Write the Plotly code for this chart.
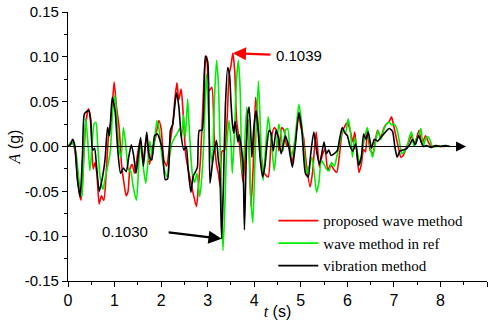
import plotly.graph_objects as go

# ---- acceleration records (time in s, acceleration in g) ----
t_proposed = [0.00, 0.06, 0.10, 0.15, 0.21, 0.28, 0.33, 0.38, 0.44, 0.49,
              0.54, 0.58, 0.62, 0.67, 0.72, 0.77, 0.82, 0.88, 0.93, 0.99,
              1.04, 1.10, 1.15, 1.20, 1.25, 1.29, 1.33, 1.38, 1.43, 1.49,
              1.55, 1.61, 1.69, 1.75, 1.81, 1.88, 1.95, 2.00, 2.06, 2.12,
              2.18, 2.25, 2.30, 2.34, 2.38, 2.43, 2.47, 2.53, 2.58, 2.64,
              2.70, 2.76, 2.80, 2.85, 2.90, 2.94, 2.98, 3.03, 3.09, 3.14,
              3.19, 3.23, 3.27, 3.31, 3.36, 3.42, 3.46, 3.50, 3.54, 3.58,
              3.62, 3.67, 3.72, 3.76, 3.82, 3.87, 3.93, 3.98, 4.03, 4.09,
              4.16, 4.22, 4.30, 4.37, 4.43, 4.48, 4.53, 4.59, 4.64, 4.70,
              4.75, 4.81, 4.88, 4.95, 5.00, 5.06, 5.12, 5.20, 5.25, 5.33,
              5.40, 5.46, 5.52, 5.58, 5.64, 5.70, 5.77, 5.83, 5.89, 5.95,
              6.00, 6.06, 6.12, 6.16, 6.20, 6.25, 6.30, 6.35, 6.39, 6.43,
              6.49, 6.55, 6.60, 6.65, 6.72, 6.78, 6.84, 6.90, 6.95, 7.00,
              7.05, 7.10, 7.15, 7.20, 7.26, 7.32, 7.38, 7.43, 7.48, 7.54,
              7.60, 7.68, 7.74, 7.80, 7.90, 8.00, 8.10]
a_proposed = [0.000, 0.003, 0.004, -0.005, -0.040, -0.060, -0.020, 0.025, 0.042, 0.030,
              -0.025, -0.018, -0.030, -0.064, -0.055, -0.060, -0.030, 0.018, 0.030, 0.072,
              0.045, 0.020, -0.020, -0.040, -0.055, -0.050, -0.025, -0.020, -0.030, -0.010,
              0.007, -0.015, 0.010, -0.020, -0.003, 0.010, 0.029, 0.020, -0.015, -0.022,
              0.000, 0.025, 0.055, 0.071, 0.052, 0.064, 0.040, -0.010, -0.025, -0.040,
              -0.055, -0.067, -0.045, -0.010, 0.050, 0.090, 0.101, 0.062, 0.066, 0.010,
              -0.020, -0.030, -0.045, -0.005, -0.005, 0.033, 0.080, 0.090, 0.1039, 0.085,
              0.030, 0.010, -0.020, -0.040, 0.000, 0.030, -0.067, -0.020, 0.055, 0.020,
              -0.015, -0.030, -0.034, 0.010, 0.021, 0.018, -0.005, 0.021, 0.018, 0.000,
              0.005, -0.019, 0.005, 0.036, 0.022, 0.010, -0.020, -0.045, -0.030, 0.016,
              -0.023, -0.010, -0.003, -0.027, -0.020, -0.025, -0.029, -0.010, 0.016, 0.023,
              0.027, 0.018, 0.005, 0.016, -0.005, -0.029, -0.020, -0.003, -0.006, 0.018,
              -0.004, -0.008, 0.006, 0.018, 0.010, 0.020, 0.025, 0.028, 0.033, 0.022,
              0.010, -0.002, -0.012, -0.010, -0.002, 0.005, 0.012, 0.004, 0.008, 0.018,
              0.003, 0.012, 0.005, 0.000, 0.001, 0.000, 0.000]

t_ref = [0.00, 0.07, 0.12, 0.18, 0.24, 0.30, 0.34, 0.38, 0.42, 0.47,
         0.51, 0.56, 0.60, 0.64, 0.69, 0.75, 0.80, 0.86, 0.91, 0.96,
         1.01, 1.05, 1.10, 1.14, 1.19, 1.24, 1.30, 1.35, 1.40, 1.47,
         1.52, 1.56, 1.61, 1.67, 1.72, 1.76, 1.81, 1.86, 1.91, 1.96,
         2.02, 2.07, 2.13, 2.18, 2.23, 2.29, 2.34, 2.40, 2.44, 2.48,
         2.52, 2.57, 2.61, 2.67, 2.72, 2.77, 2.83, 2.88, 2.92, 2.97,
         3.01, 3.05, 3.10, 3.14, 3.19, 3.23, 3.26, 3.30, 3.33, 3.37,
         3.41, 3.46, 3.50, 3.53, 3.58, 3.62, 3.66, 3.70, 3.74, 3.78,
         3.84, 3.88, 3.93, 3.97, 4.02, 4.09, 4.14, 4.19, 4.24, 4.30,
         4.36, 4.43, 4.48, 4.53, 4.58, 4.62, 4.67, 4.72, 4.78, 4.83,
         4.88, 4.96, 5.02, 5.08, 5.13, 5.19, 5.24, 5.29, 5.34, 5.39,
         5.44, 5.50, 5.55, 5.61, 5.66, 5.72, 5.78, 5.84, 5.90, 5.96,
         6.02, 6.07, 6.11, 6.16, 6.21, 6.27, 6.32, 6.37, 6.43, 6.49,
         6.54, 6.60, 6.66, 6.72, 6.78, 6.84, 6.90, 6.96, 7.00, 7.06,
         7.12, 7.17, 7.22, 7.28, 7.33, 7.38, 7.43, 7.48, 7.53, 7.58,
         7.63, 7.68, 7.72, 7.77, 7.83, 7.95, 8.10, 8.20]
a_ref = [0.000, 0.005, 0.002, -0.010, -0.040, -0.056, -0.010, 0.031, 0.010, -0.027,
         -0.005, 0.025, 0.027, 0.000, -0.034, -0.048, -0.035, -0.020, -0.005, 0.040,
         0.057, 0.030, -0.005, -0.012, 0.021, 0.002, -0.026, -0.028, -0.045, -0.060,
         -0.020, 0.006, -0.020, -0.041, -0.015, 0.006, -0.012, 0.006, 0.029, 0.018,
         -0.012, -0.026, -0.034, -0.012, 0.003, 0.010, 0.014, 0.020, 0.010, 0.035,
         0.010, 0.053, 0.015, -0.030, -0.040, -0.030, -0.056, -0.030, 0.010, 0.081,
         0.045, 0.000, -0.019, 0.045, 0.096, 0.070, 0.015, -0.065, -0.116, -0.065,
         0.000, 0.029, 0.005, -0.030, 0.020, 0.075, 0.096, 0.060, -0.030, -0.010,
         0.044, 0.010, -0.060, -0.085, -0.010, 0.073, 0.010, -0.038, -0.005, 0.033,
         0.010, -0.027, 0.000, 0.025, 0.012, -0.005, 0.018, 0.020, -0.012, -0.005,
         0.010, 0.047, 0.025, -0.010, -0.030, -0.020, -0.012, -0.030, -0.051, -0.040,
         -0.015, -0.020, -0.025, -0.027, -0.018, -0.022, -0.010, 0.005, 0.018, 0.015,
         0.031, 0.015, -0.012, 0.010, -0.005, -0.020, -0.005, 0.010, 0.021, 0.000,
         -0.012, 0.003, 0.018, 0.008, 0.018, 0.025, 0.027, 0.024, 0.025, 0.020,
         0.005, -0.008, -0.006, -0.001, 0.010, 0.016, 0.000, 0.008, 0.012, 0.020,
         0.000, 0.008, 0.011, 0.008, 0.000, 0.000, 0.001, 0.000]

t_vib = [0.00, 0.05, 0.10, 0.15, 0.20, 0.26, 0.31, 0.35, 0.40, 0.45,
         0.49, 0.53, 0.57, 0.61, 0.67, 0.72, 0.77, 0.80, 0.85, 0.89,
         0.95, 1.01, 1.07, 1.13, 1.19, 1.25, 1.31, 1.36, 1.41, 1.46,
         1.51, 1.56, 1.62, 1.69, 1.75, 1.80, 1.86, 1.92, 1.97, 2.03,
         2.09, 2.14, 2.20, 2.25, 2.33, 2.38, 2.43, 2.49, 2.54, 2.58,
         2.64, 2.69, 2.74, 2.78, 2.82, 2.88, 2.95, 3.00, 3.03, 3.05,
         3.10, 3.14, 3.19, 3.23, 3.26, 3.30, 3.34, 3.38, 3.43, 3.47,
         3.50, 3.53, 3.56, 3.59, 3.65, 3.68, 3.73, 3.76, 3.79, 3.82,
         3.86, 3.89, 3.93, 3.95, 3.99, 4.04, 4.08, 4.13, 4.18, 4.23,
         4.27, 4.32, 4.36, 4.41, 4.47, 4.52, 4.58, 4.67, 4.74, 4.82,
         4.88, 4.96, 5.02, 5.10, 5.16, 5.21, 5.28, 5.34, 5.40, 5.45,
         5.50, 5.55, 5.60, 5.65, 5.72, 5.78, 5.84, 5.89, 5.95, 6.00,
         6.06, 6.12, 6.18, 6.24, 6.30, 6.35, 6.40, 6.45, 6.52, 6.58,
         6.65, 6.72, 6.80, 6.90, 6.97, 7.02, 7.07, 7.13, 7.20, 7.28,
         7.35, 7.40, 7.46, 7.53, 7.58, 7.63, 7.70, 7.80, 7.90, 8.00,
         8.10, 8.20]
a_vib = [0.000, 0.002, 0.008, 0.000, -0.035, -0.056, -0.010, 0.036, 0.039, 0.040,
         0.025, -0.004, -0.002, -0.020, -0.050, -0.040, -0.025, -0.012, 0.021, 0.012,
         0.055, 0.040, -0.005, -0.030, -0.024, -0.028, -0.010, 0.002, -0.010, -0.030,
         -0.010, 0.010, -0.022, 0.016, -0.012, -0.015, 0.012, 0.014, 0.008, -0.005,
         -0.037, -0.036, 0.018, 0.025, 0.060, 0.045, 0.012, -0.004, 0.000, -0.025,
         -0.051, -0.033, -0.028, -0.023, 0.018, 0.018, 0.101, 0.095, 0.025, -0.041,
         -0.020, -0.005, 0.007, -0.015, -0.027, -0.1030, -0.040, 0.044, 0.088, 0.080,
         0.050, 0.026, 0.015, 0.028, 0.005, 0.013, -0.004, -0.020, -0.093, -0.030,
         0.036, 0.044, 0.010, -0.012, 0.020, 0.040, 0.020, -0.015, -0.034, -0.022,
         0.000, 0.018, 0.015, -0.005, 0.018, 0.010, -0.008, 0.012, 0.000, -0.023,
         0.000, 0.038, 0.020, -0.030, -0.034, -0.010, 0.016, -0.005, -0.020, -0.008,
         0.005, -0.008, -0.004, -0.010, -0.008, -0.005, 0.010, 0.021, 0.015, 0.012,
         0.000, -0.005, 0.003, -0.021, -0.012, 0.014, 0.008, 0.016, -0.002, 0.008,
         0.006, 0.010, 0.015, 0.020, 0.017, 0.000, -0.012, -0.005, -0.004, -0.002,
         0.003, 0.008, 0.002, 0.012, 0.006, 0.000, 0.001, -0.001, 0.001, 0.000,
         0.001, 0.000]

assert len(t_proposed) == len(a_proposed)
assert len(t_ref) == len(a_ref)
assert len(t_vib) == len(a_vib)

series_names = ["proposed wave method", "wave method in ref", "vibration method"]
series_colors = ["#ff0000", "#00ee00", "#000000"]

x_ticks = [0, 1, 2, 3, 4, 5, 6, 7, 8, 9]
y_ticks = [-0.15, -0.10, -0.05, 0.00, 0.05, 0.10, 0.15]
y_ticktext = ["-0.15", "-0.10", "-0.05", "0.00", "0.05", "0.10", "0.15"]

peak_label = "0.1039"
trough_label = "0.1030"

serif = "Liberation Serif"
sans = "Liberation Sans"

fig = go.Figure()
for i, (tt, aa) in enumerate([(t_proposed, a_proposed), (t_ref, a_ref), (t_vib, a_vib)]):
    fig.add_trace(go.Scatter(
        x=tt, y=aa, mode="lines", name=series_names[i],
        legendgroup=str(i),
        line=dict(color=series_colors[i], width=1.6, shape="spline", smoothing=0.6),
    ))

axis_common = dict(showgrid=False, zeroline=False, showline=True, linecolor="black", linewidth=1.2,
                   tickcolor="black", tickwidth=1.1)

fig.update_layout(
    width=489, height=320,
    margin=dict(l=68, r=2, t=12, b=39, autoexpand=False),
    paper_bgcolor="white", plot_bgcolor="white",
    font=dict(family=sans, size=15, color="black"),
    xaxis=dict(range=[0, 9], tickvals=x_ticks, ticks="outside", ticklen=5,
               minor=dict(dtick=0.5, ticks="outside", ticklen=3, tickcolor="black"),
               tickfont=dict(size=16, family=sans),
               title=dict(text="<span style='font-family:Liberation Serif'><i>t</i></span> (s)",
                          font=dict(size=16), standoff=3),
               **axis_common),
    yaxis=dict(range=[-0.15, 0.15], tickvals=y_ticks, ticktext=y_ticktext, ticks="outside", ticklen=5,
               minor=dict(dtick=0.025, ticks="outside", ticklen=3, tickcolor="black"),
               tickfont=dict(size=15, family=sans),
               title=dict(text="<span style='font-family:Liberation Serif'><i>A</i></span> (g)",
                          font=dict(size=16), standoff=0),
               **axis_common),
    xaxis2=dict(range=[0, 9], overlaying="x", side="top", anchor="y", tickvals=x_ticks,
                ticks="inside", ticklen=4, showticklabels=False,
                minor=dict(dtick=0.5, ticks="inside", ticklen=4, tickcolor="black"),
                **axis_common),
    yaxis2=dict(range=[-0.15, 0.15], overlaying="y", side="right", anchor="x", tickvals=y_ticks,
                ticks="inside", ticklen=4, showticklabels=False,
                minor=dict(dtick=0.025, ticks="inside", ticklen=4, tickcolor="black"),
                **axis_common),
    legend=dict(x=0.49, y=0.285, xanchor="left", yanchor="top", bgcolor="rgba(0,0,0,0)",
                font=dict(family=serif, size=15), tracegroupgap=0, itemwidth=40),
    showlegend=True,
)

# baseline with arrow
fig.add_annotation(x=8.55, y=0, ax=0, ay=0, xref="x", yref="y", axref="x", ayref="y",
                   text="", showarrow=True, arrowhead=2, arrowsize=2, arrowwidth=1,
                   arrowcolor="black", standoff=0, startstandoff=0)

# peak marker of the proposed wave method
fig.add_annotation(x=3.54, y=0.1039, ax=4.38, ay=0.1025, xref="x", yref="y", axref="x", ayref="y",
                   text="", showarrow=True, arrowhead=2, arrowsize=1.2, arrowwidth=2.2,
                   arrowcolor="#ff0000", standoff=0)
fig.add_annotation(x=4.97, y=0.1015, xref="x", yref="y", text=peak_label, showarrow=False,
                   font=dict(family=sans, size=15))

# trough marker of the vibration method
fig.add_annotation(x=3.30, y=-0.1030, ax=2.13, ay=-0.0955, xref="x", yref="y", axref="x", ayref="y",
                   text="", showarrow=True, arrowhead=2, arrowsize=1.2, arrowwidth=2.2,
                   arrowcolor="black", standoff=0)
fig.add_annotation(x=1.22, y=-0.0944, xref="x", yref="y", text=trough_label, showarrow=False,
                   font=dict(family=sans, size=15))

fig.write_html("out.html")
